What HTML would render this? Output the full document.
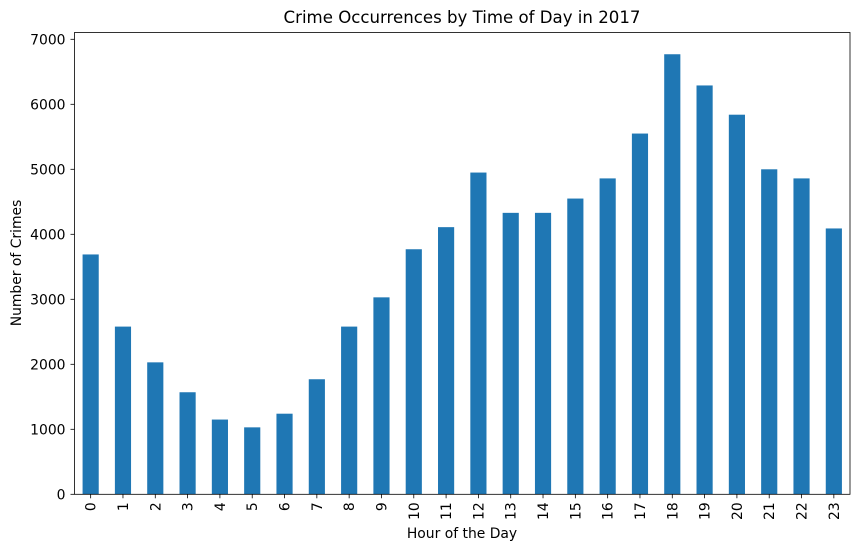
<!DOCTYPE html>
<html><head><meta charset="utf-8"><style>
body{margin:0;background:#fff;}
text{font-family:"DejaVu Sans","Liberation Sans",sans-serif;fill:#000;}
</style></head><body>
<svg id="chart" width="859" height="551" viewBox="0 0 859 551">
<text x="462" y="23" text-anchor="middle" font-size="16.6">Crime Occurrences by Time of Day in 2017</text>
<text x="462" y="538" text-anchor="middle" font-size="13.9">Hour of the Day</text>
<text transform="translate(21,263) rotate(-90)" text-anchor="middle" font-size="13.9">Number of Crimes</text>
<g id="bars"></g><g id="axes"></g>
</svg>
<script>
const categories=["0","1","2","3","4","5","6","7","8","9","10","11","12","13","14","15","16","17","18","19","20","21","22","23"];
const counts=[3690,2580,2030,1570,1150,1030,1240,1770,2580,3030,3770,4110,4950,4330,4330,4550,4860,5550,6770,6290,5840,5000,4860,4090];
const yTicks=[0,1000,2000,3000,4000,5000,6000,7000];
const L=74.5,R=850,T=32.5,B=494.3;
const ns="http://www.w3.org/2000/svg";
function y(v){return B-v*0.065;}
function x(i){const w=(R-L)/categories.length;return L+w*(i+0.5);}
const bw=(R-L)/categories.length*0.5;
const bars=document.getElementById('bars'),axes=document.getElementById('axes');
function mk(tag,attrs,parent){const e=document.createElementNS(ns,tag);for(const k in attrs)e.setAttribute(k,attrs[k]);parent.appendChild(e);return e;}
counts.forEach((v,i)=>{
 const r=mk('rect',{x:x(i)-bw/2,y:y(v),width:bw,height:B-y(v),fill:'#1f77b4'},bars);
 
 
 const t=mk('line',{x1:x(i),x2:x(i),y1:B,y2:B+4,stroke:'#000','stroke-width':0.8},axes);
 
 
 const lb=mk('text',{transform:`translate(${x(i)+5},${B+8}) rotate(-90)`,'text-anchor':'end','font-size':13.9},axes);
 lb.textContent=categories[i];
 
 
});
yTicks.forEach(v=>{
 const t=mk('line',{x1:L-4,x2:L,y1:y(v),y2:y(v),stroke:'#000','stroke-width':0.8},axes);
 
 
 const lb=mk('text',{x:L-9,y:y(v)+5,'text-anchor':'end','font-size':13.9},axes);
 lb.textContent=v;
 
 
});
const f=mk('rect',{x:L,y:T,width:R-L,height:B-T,fill:'none',stroke:'#000','stroke-width':0.8},axes);


</script>
</body></html>
